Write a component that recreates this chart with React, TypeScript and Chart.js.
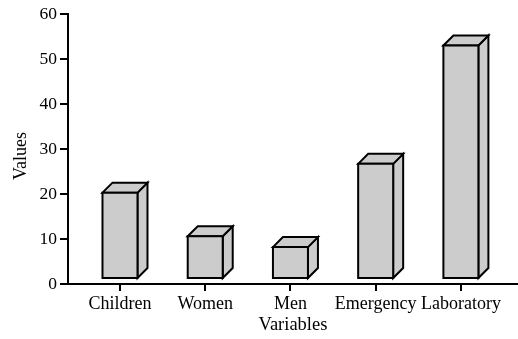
import React, { useEffect, useRef } from "react";
import { Chart, registerables } from "chart.js";

Chart.register(...registerables);

const categories = ["Children", "Women", "Men", "Emergency", "Laboratory"];
const values = [20.3, 10.6, 8.2, 26.7, 53];
const yTicks = [0, 10, 20, 30, 40, 50, 60];
const xTitle = "Variables";
const yTitle = "Values";

const FONT = "'Liberation Serif', 'Times New Roman', serif";
const FILL = "#cccccc";
const DEPTH = 10;
const BASE_GAP = 5;

// Draws every bar as a shaded box: front face, right side and top.
const boxBars = {
  id: "boxBars",
  afterDatasetsDraw(chart: any) {
    const ctx = chart.ctx;
    const meta = chart.getDatasetMeta(0);
    ctx.save();
    ctx.lineWidth = 2;
    ctx.strokeStyle = "#000";
    ctx.fillStyle = FILL;
    ctx.lineJoin = "miter";
    meta.data.forEach((bar: any) => {
      const { x, y, base, width } = bar.getProps(["x", "y", "base", "width"], true);
      const l = x - width / 2;
      const r = x + width / 2;
      const top = y;
      const bottom = base - BASE_GAP;
      const d = DEPTH;
      // side
      ctx.beginPath();
      ctx.moveTo(r, top);
      ctx.lineTo(r + d, top - d);
      ctx.lineTo(r + d, bottom - d);
      ctx.lineTo(r, bottom);
      ctx.closePath();
      ctx.fill();
      ctx.stroke();
      // top
      ctx.beginPath();
      ctx.moveTo(l, top);
      ctx.lineTo(l + d, top - d);
      ctx.lineTo(r + d, top - d);
      ctx.lineTo(r, top);
      ctx.closePath();
      ctx.fill();
      ctx.stroke();
      // front
      ctx.beginPath();
      ctx.rect(l, top, width, bottom - top);
      ctx.fill();
      ctx.stroke();
    });
    ctx.restore();
  },
};

// Vertical axis title, set a little below the middle of the axis.
const yAxisTitle = {
  id: "yAxisTitle",
  afterDraw(chart: any) {
    const ctx = chart.ctx;
    const area = chart.chartArea;
    ctx.save();
    ctx.translate(21, (area.top + area.bottom) / 2 + 7);
    ctx.rotate(-Math.PI / 2);
    ctx.font = `18px ${FONT}`;
    ctx.fillStyle = "#000";
    ctx.textAlign = "center";
    ctx.textBaseline = "middle";
    ctx.fillText(yTitle, 0, 0);
    ctx.restore();
  },
};

export default function App() {
  const canvasRef = useRef<HTMLCanvasElement | null>(null);

  useEffect(() => {
    document.body.style.margin = "0";
    const canvas = canvasRef.current;
    if (!canvas) return;
    const chart = new Chart(canvas, {
      type: "bar",
      data: {
        datasets: [
          {
            label: yTitle,
            data: categories.map((_, i) => ({ x: i, y: values[i] })),
            backgroundColor: "rgba(0,0,0,0)",
            borderWidth: 0,
            barThickness: 35,
          },
        ],
      },
      options: {
        animation: false,
        responsive: false,
        maintainAspectRatio: false,
        layout: { padding: { top: 14, right: 0, left: 0, bottom: 0 } },
        plugins: { legend: { display: false }, tooltip: { enabled: false } },
        scales: {
          x: {
            type: "linear",
            min: -0.61,
            max: 4.67,
            offset: false,
            afterBuildTicks: (scale: any) => {
              scale.ticks = categories.map((_, i) => ({ value: i }));
            },
            afterFit: (scale: any) => {
              scale.height = 55;
            },
            border: { color: "#000", width: 2 },
            grid: {
              offset: false,
              drawOnChartArea: false,
              drawTicks: true,
              tickLength: 7,
              color: "#000",
              lineWidth: 2,
            },
            ticks: {
              autoSkip: false,
              maxRotation: 0,
              padding: 2,
              color: "#000",
              font: { family: FONT, size: 18 },
              callback: (v: any) => categories[Math.round(Number(v))] ?? "",
            },
            title: {
              display: true,
              text: xTitle,
              color: "#000",
              font: { family: FONT, size: 18.5 },
              padding: { top: 0, bottom: 3 },
            },
          },
          y: {
            min: 0,
            max: 60,
            afterBuildTicks: (scale: any) => {
              scale.ticks = yTicks.map((v) => ({ value: v }));
            },
            afterFit: (scale: any) => {
              scale.width = 68;
            },
            border: { color: "#000", width: 2 },
            grid: {
              drawOnChartArea: false,
              drawTicks: true,
              tickLength: 8,
              color: "#000",
              lineWidth: 2,
            },
            ticks: {
              padding: 3,
              color: "#000",
              font: { family: FONT, size: 17.5 },
            },
            title: { display: false },
          },
        },
      },
      plugins: [boxBars, yAxisTitle],
    });
    return () => chart.destroy();
  }, []);

  return (
    <div style={{ width: 518, height: 339, position: "relative", background: "#fff" }}>
      <canvas ref={canvasRef} width={518} height={339} style={{ display: "block" }} />
    </div>
  );
}
